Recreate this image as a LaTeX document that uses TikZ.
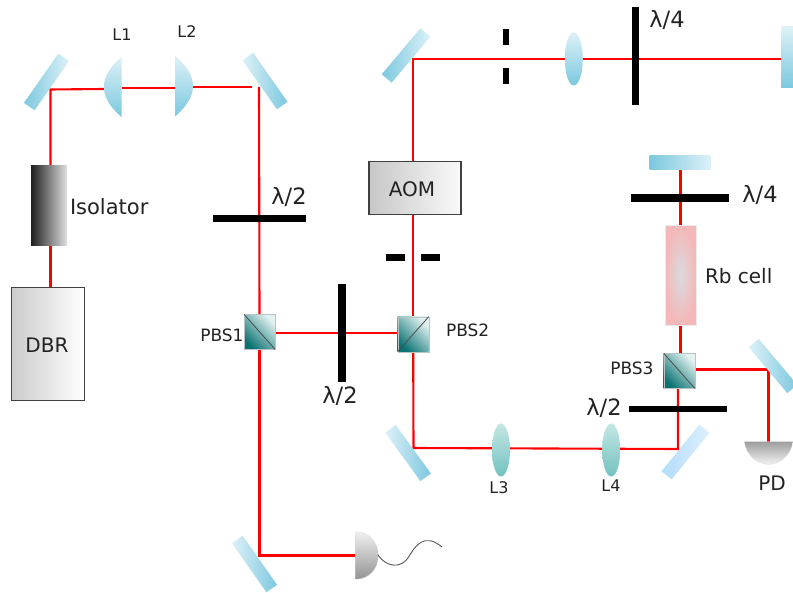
\documentclass[tikz,border=0pt]{standalone}
\usepackage{fontspec}
\setmainfont{DejaVu Sans}
\usetikzlibrary{shapes.geometric,backgrounds}
\definecolor{mirdark}{HTML}{7CC8DF}
\definecolor{mirlight}{HTML}{DDF1F7}
\definecolor{bluedark}{HTML}{B3DCFA}
\definecolor{bluelight}{HTML}{DDF0FD}
\definecolor{teald}{HTML}{0B7272}
\definecolor{teall}{HTML}{E2F1F1}
\definecolor{lenstop}{HTML}{C4E6E4}
\definecolor{lensbot}{HTML}{72C2C0}
\definecolor{cellc}{HTML}{F4B8B8}
\definecolor{cellm}{HTML}{DADADE}
\definecolor{txt}{HTML}{222222}
\tikzset{
  every node/.style={inner sep=0pt,outer sep=0pt},
  beam/.style={draw=red,line width=2.1pt},
  mirrorbox/.style={rectangle,minimum width=60pt,minimum height=13pt,left color=mirdark,right color=mirlight},
  mirrorrev/.style={rectangle,minimum width=60pt,minimum height=13pt,left color=mirlight,right color=mirdark},
  plate/.style={rectangle,fill=black},
  pbsbox/.style={rectangle,minimum width=31pt,minimum height=35pt,left color=teald,right color=teall,shading angle=135,draw=teall!60!gray,line width=.3pt},
  split/.style={draw=black!70,line width=.8pt},
  lensblue/.style={ellipse,minimum width=18pt,minimum height=53pt,top color=mirlight,bottom color=mirdark},
  lensteal/.style={ellipse,minimum width=18pt,minimum height=53pt,top color=lenstop,bottom color=lensbot},
  lab/.style={text=txt,font=\fontsize{20}{24}\selectfont},
  lamlab/.style={text=txt,font=\fontsize{22.5}{26}\selectfont},
  smalllab/.style={text=txt,font=\fontsize{16}{20}\selectfont},
  pbslab/.style={text=txt,font=\fontsize{17}{20}\selectfont},
  instr/.style={rectangle,draw=black!75,line width=1.4pt},
}
\begin{document}
\begin{tikzpicture}[x=1pt,y=-1pt]
\useasboundingbox (0,0) rectangle (793,593);
\clip (0,0) rectangle (793,593);
% mirrors
\node[mirrorbox,rotate=55] (M1) at (46.5,82) {};
\node[mirrorrev,rotate=125] (M2) at (265,81) {};
\node[mirrorbox,rotate=50] (M3) at (406,55.5) {};
\node[rectangle,minimum width=14pt,minimum height=61pt,top color=mirlight,bottom color=mirdark] (M4) at (788,57.5) {};
\node[rectangle,minimum width=61pt,minimum height=14pt,left color=mirdark,right color=mirlight] (M5) at (680,163) {};
\node[mirrorrev,rotate=126] (M6) at (408,453) {};
\node[mirrorrev,rotate=125] (M7) at (254.5,564) {};
\node[mirrorbox,rotate=51,left color=bluedark,right color=bluelight] (M8) at (685.5,452) {};
\node[mirrorrev,rotate=130] (M9) at (773,366) {};
% beam turning points
\coordinate (t1) at (50.5,89.5);
\coordinate (t2a) at (252,87);
\coordinate (t2b) at (259,87);
\coordinate (t3) at (413,59);
\coordinate (t5a) at (275,333);
\coordinate (t5b) at (397.7,333);
\coordinate (t6) at (413.5,448);
\coordinate (t7) at (259.5,555.5);
\coordinate (t8) at (678,449);
\coordinate (t9) at (768.5,369.5);
% plano-convex lenses
\shade[top color=mirlight,bottom color=mirdark] (121.5,57) .. controls (98,77) and (98,97) .. (121.5,117) -- cycle;
\shade[top color=mirlight,bottom color=mirdark] (175,56) .. controls (199,76) and (199,96) .. (175,116.5) -- cycle;
\coordinate (L1a) at (104,89);
\coordinate (L1b) at (121.5,88);
\coordinate (L2a) at (175,88);
\coordinate (L2b) at (193,87);
\node[smalllab] (L1t) at (122,35) {L1};
\node[smalllab] (L2t) at (187,32) {L2};
% biconvex lenses
\node[lensblue] (L5) at (573.8,59) {};
\node[lensteal] (L3) at (501,450) {};
\node[lensteal] (L4) at (611.2,450) {};
\node[smalllab] (L3t) at (499,488) {L3};
\node[smalllab] (L4t) at (611,486) {L4};
% source
\node[rectangle,minimum width=36pt,minimum height=80pt,left color=black!88,right color=black!12] (ISO) at (49,206) {};
\node[instr,minimum width=73pt,minimum height=113pt,left color=black!20,right color=white] (DBR) at (48,344) {};
\node[lab] (DBRt) at (47,345) {DBR};
\node[lab,anchor=west,font=\fontsize{21}{24}\selectfont] (ISOt) at (70,207) {Isolator};
% AOM
\node[instr,minimum width=92pt,minimum height=53pt,left color=black!22,right color=black!2] (AOM) at (415,188) {};
\node[lab] (AOMt) at (412,189) {AOM};
% Rb cell
\node[rectangle,minimum width=31pt,minimum height=100pt,inner color=cellm,outer color=cellc,draw=black!8,line width=.4pt] (RB) at (680.5,275.3) {};
\node[lab,anchor=west] (RBt) at (705,276) {Rb cell};
% cubes
\node[pbsbox] (PBS1) at (259.5,331.8) {};
\node[pbsbox] (PBS2) at (413.2,334.2) {};
\node[pbsbox] (PBS3) at (679.2,370.8) {};
\draw[split] (PBS1.north west) -- (PBS1.south east);
\draw[split] (PBS2.south west) -- (PBS2.north east);
\draw[split] (PBS3.north west) -- (PBS3.south east);
\node[pbslab,anchor=east] (PBS1t) at (243.5,335) {PBS1};
\node[pbslab,anchor=west] (PBS2t) at (446,330) {PBS2};
\node[pbslab,anchor=east] (PBS3t) at (653.5,368) {PBS3};
% wave plates
\node[plate,minimum width=93pt,minimum height=7pt] (W1) at (259.5,218.5) {};
\node[plate,minimum width=7.5pt,minimum height=98pt] (W2) at (342,333) {};
\node[plate,minimum width=7pt,minimum height=98pt] (W3) at (635.8,56.3) {};
\node[plate,minimum width=97.7pt,minimum height=7.4pt] (W4) at (679.8,198) {};
\node[plate,minimum width=97.7pt,minimum height=6.8pt] (W5) at (677.8,409) {};
\node[lamlab] (W1t) at (289,197) {λ/2};
\node[lamlab] (W2t) at (340,396) {λ/2};
\node[lamlab] (W3t) at (667,20) {λ/4};
\node[lamlab] (W4t) at (760,195) {λ/4};
\node[lamlab] (W5t) at (604,408) {λ/2};
% apertures
\node[plate,minimum width=6.6pt,minimum height=16.6pt] (A1a) at (506,37) {};
\node[plate,minimum width=6.6pt,minimum height=16.3pt] (A1b) at (506,76.2) {};
\node[plate,minimum width=18.7pt,minimum height=7pt] (A2a) at (395.3,257.5) {};
\node[plate,minimum width=19.3pt,minimum height=7pt] (A2b) at (430.3,257.5) {};
% detectors
\shade[top color=black!6,bottom color=black!42,draw=black!15,line width=.3pt] (355.7,531.7) .. controls (370,532) and (378.3,543) .. (378.3,555.5) .. controls (378.3,568) and (370,579) .. (355.7,579.3) -- cycle;
\coordinate (D1a) at (355.7,555.5);
\coordinate (D1b) at (378,555);
\shade[top color=black!38,bottom color=black!5,draw=black!15,line width=.3pt] (744.3,441.7) .. controls (746,455) and (757,464.3) .. (768.7,464.3) .. controls (780,464.3) and (791,455) .. (793,441.7) -- cycle;
\coordinate (D2) at (768.5,441.7);
\node[lab] (PDt) at (772,483) {PD};
% fibre
\draw[black!65,line width=.9pt] (D1b) .. controls (387,568) and (401,568) .. (408,558) .. controls (415,546) and (424,532) .. (442,547);
% beams
\begin{pgfonlayer}{background}
\fill[white] (0,0) rectangle (793,593);
\draw[beam] (DBR.north -| t1) -- (ISO.south -| t1);
\draw[beam] (ISO.north -| t1) -- (t1) -- (L1a);
\draw[beam] (L1b) -- (L2a);
\draw[beam] (L2b) -- (t2a);
\draw[beam] (t2b) -- (PBS1.north);
\draw[beam] (PBS1.south) -- (t7) -- (D1a);
\draw[beam] (t5a) -- (t5b);
\draw[beam] (PBS2.north) -- (PBS2.north |- AOM.south);
\draw[beam] (t3 |- AOM.north) -- (t3) -- (M4.west |- t3);
\draw[beam] (PBS2.south) -- (t6) -- (t8) -- (t8 |- PBS3.south);
\draw[beam] (RB.north) -- (RB.north |- M5.south);
\draw[beam] (RB.south) -- (RB.south |- PBS3.north);
\draw[beam] (PBS3.east |- t9) -- (t9) -- (D2);
\end{pgfonlayer}
\end{tikzpicture}
\end{document}
